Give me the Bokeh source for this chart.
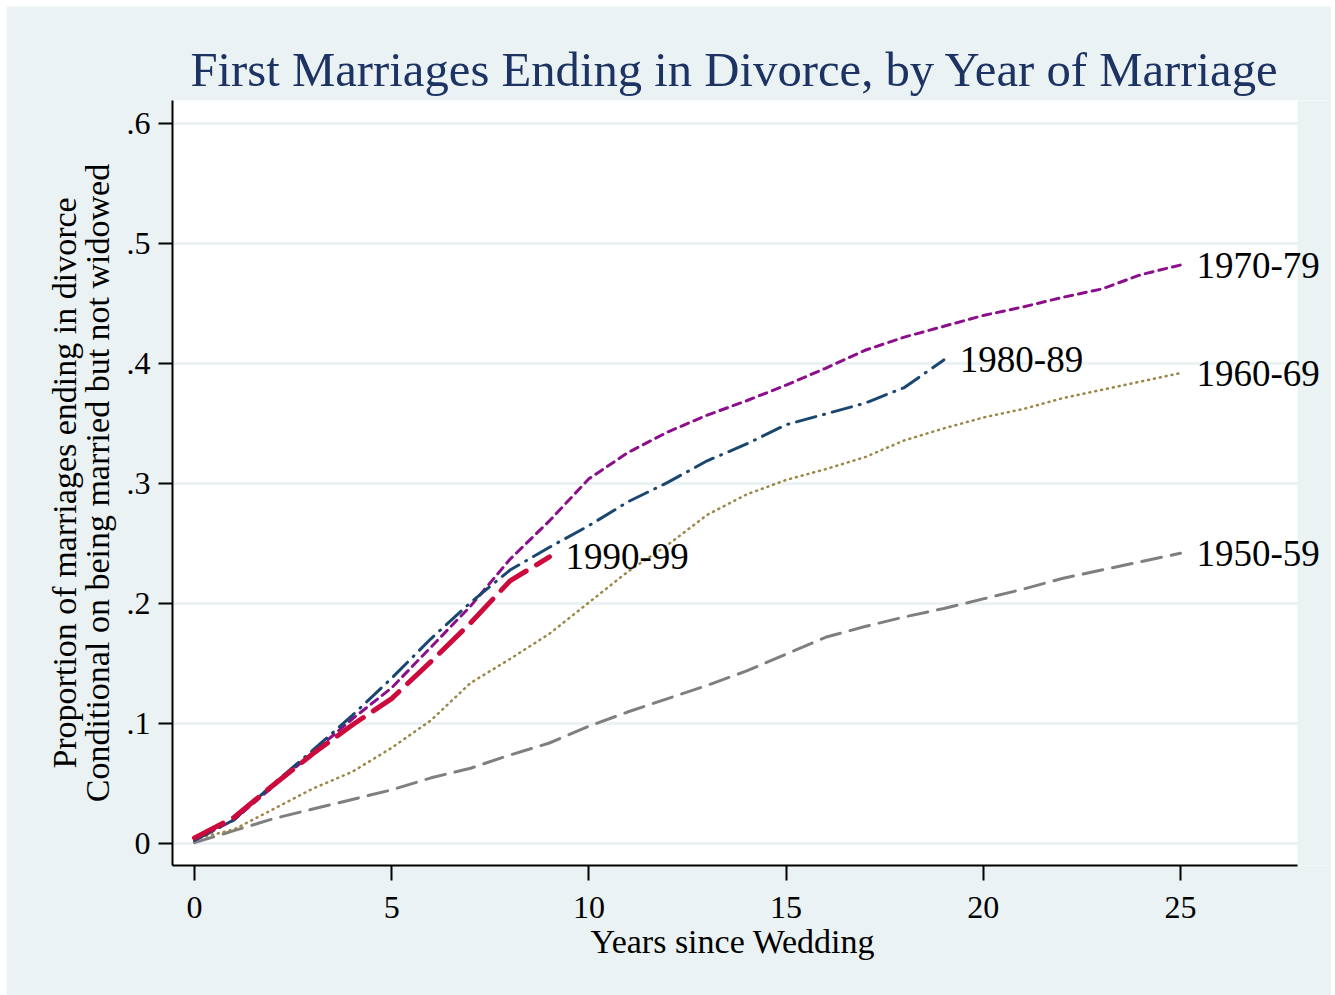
from bokeh.plotting import figure
from bokeh.models import Range1d, FixedTicker, LinearAxis, CustomJSTickFormatter, Label, Title
from bokeh.embed import file_html
from bokeh.resources import INLINE

# ---------------- data ----------------
years = list(range(26))
cohorts = ["1950-59", "1960-69", "1970-79", "1980-89", "1990-99"]
div_1950s = [0.001, 0.011, 0.021, 0.029, 0.037, 0.045, 0.055, 0.063, 0.074, 0.084,
             0.098, 0.110, 0.121, 0.132, 0.144, 0.158, 0.172, 0.181, 0.189, 0.196,
             0.204, 0.212, 0.221, 0.228, 0.235, 0.242]
div_1960s = [0.004, 0.012, 0.029, 0.046, 0.060, 0.080, 0.103, 0.134, 0.154, 0.175,
             0.201, 0.227, 0.249, 0.274, 0.291, 0.303, 0.312, 0.322, 0.336, 0.346,
             0.355, 0.362, 0.371, 0.378, 0.385, 0.392]
div_1970s = [0.003, 0.020, 0.048, 0.076, 0.104, 0.130, 0.164, 0.198, 0.237, 0.269,
             0.304, 0.326, 0.343, 0.357, 0.369, 0.382, 0.396, 0.411, 0.422, 0.431,
             0.440, 0.447, 0.455, 0.462, 0.474, 0.482]
div_1980s = [0.003, 0.020, 0.050, 0.078, 0.107, 0.138, 0.171, 0.201, 0.228, 0.247,
             0.265, 0.285, 0.301, 0.319, 0.333, 0.349, 0.358, 0.367, 0.380, 0.403]
div_1990s = [0.005, 0.022, 0.049, 0.075, 0.099, 0.121, 0.152, 0.184, 0.219, 0.239]
x_ticks = [0, 5, 10, 15, 20, 25]
y_ticks = [0, 0.1, 0.2, 0.3, 0.4, 0.5, 0.6]

series = [div_1950s, div_1960s, div_1970s, div_1980s, div_1990s]
colors = ["#7F7F7F", "#9A8646", "#8B0F8B", "#1A476F", "#CC0A3C"]
widths = [3, 2.5, 3, 3, 5]
dashes = ["20 10", "1 5", "8 6", "20 8 1 8", "32 12"]

FONT = "Liberation Serif"
BG = "#EAF2F3"

# plot region spans x from X_LO to X_HI (white); the frame is extended to the right
# (in the border colour) so that the end labels are not clipped
X_LO, X_HI, X_FRAME_HI = -0.558, 27.97, 28.83

p = figure(width=1325, height=989,
           x_range=Range1d(X_LO, X_FRAME_HI), y_range=Range1d(-0.018, 0.619),
           output_backend="svg", toolbar_location=None,
           min_border_left=166, min_border_right=0, min_border_top=94, min_border_bottom=130,
           background_fill_color="white", border_fill_color=BG, outline_line_color=None)
p.margin = (6, 0, 0, 6)

p.title.text = "First Marriages Ending in Divorce, by Year of Marriage"
p.title.text_font = FONT
p.title.text_font_size = "48.7px"
p.title.text_font_style = "normal"
p.title.text_color = "#1C3363"
p.title.align = "left"
p.title.offset = 18
p.title.standoff = 8

# axes
p.xaxis.ticker = FixedTicker(ticks=x_ticks)
p.xaxis.bounds = (X_LO, X_HI)
p.yaxis.ticker = FixedTicker(ticks=y_ticks)
p.yaxis.formatter = CustomJSTickFormatter(
    code="return tick == 0 ? '0' : tick.toFixed(1).replace(/^0/, '');")
for ax in (p.xaxis[0], p.yaxis[0]):
    ax.axis_line_color = "black"
    ax.axis_line_width = 2
    ax.major_tick_line_color = "black"
    ax.major_tick_line_width = 2
    ax.major_tick_in = 0
    ax.minor_tick_line_color = None
    ax.major_label_text_font = FONT
    ax.major_label_text_font_size = "32px"
    ax.major_label_text_color = "black"
    ax.axis_label_text_font = FONT
    ax.axis_label_text_font_size = "34px"
    ax.axis_label_text_font_style = "normal"
    ax.axis_label_text_color = "black"
p.xaxis.major_tick_out = 15
p.yaxis.major_tick_out = 14
p.xaxis.major_label_standoff = 16
p.yaxis.major_label_standoff = 8
p.yaxis.major_label_orientation = "horizontal"
p.yaxis.axis_label = "Conditional on being married but not widowed"
p.yaxis.axis_label_standoff = 8

# x-axis title, centred on the white plot region (not the extended frame)
xtitle = Title(text="Years since Wedding", align="left", offset=418, standoff=0,
               text_font=FONT, text_font_size="34px", text_font_style="normal",
               text_color="black")
p.add_layout(xtitle, "below")

outer = LinearAxis(ticker=FixedTicker(ticks=[]), axis_line_color=None,
                   major_tick_line_color=None, minor_tick_line_color=None,
                   axis_label="Proportion of marriages ending in divorce",
                   axis_label_text_font=FONT, axis_label_text_font_size="34px",
                   axis_label_text_font_style="normal", axis_label_text_color="black",
                   axis_label_standoff=-7)
p.add_layout(outer, "left")

p.xgrid.visible = False
p.ygrid.ticker = FixedTicker(ticks=y_ticks)
p.ygrid.grid_line_color = BG
p.ygrid.grid_line_width = 3

# border-coloured strip to the right of the white plot region
p.quad(left=X_HI, right=X_FRAME_HI + 1, bottom=-1, top=1,
       fill_color=BG, line_color=None)

for ys, c, w, d, name in zip(series, colors, widths, dashes, cohorts):
    xs = years[:len(ys)]
    p.line(xs, ys, line_color=c, line_width=w, line_dash=d, line_cap="round", line_join="round")
    p.add_layout(Label(x=xs[-1], y=ys[-1], text=name, x_offset=16,
                       text_font=FONT, text_font_size="37px", text_color="black",
                       text_baseline="middle", text_align="left"))

open("out.html", "w").write(file_html(p, INLINE))
